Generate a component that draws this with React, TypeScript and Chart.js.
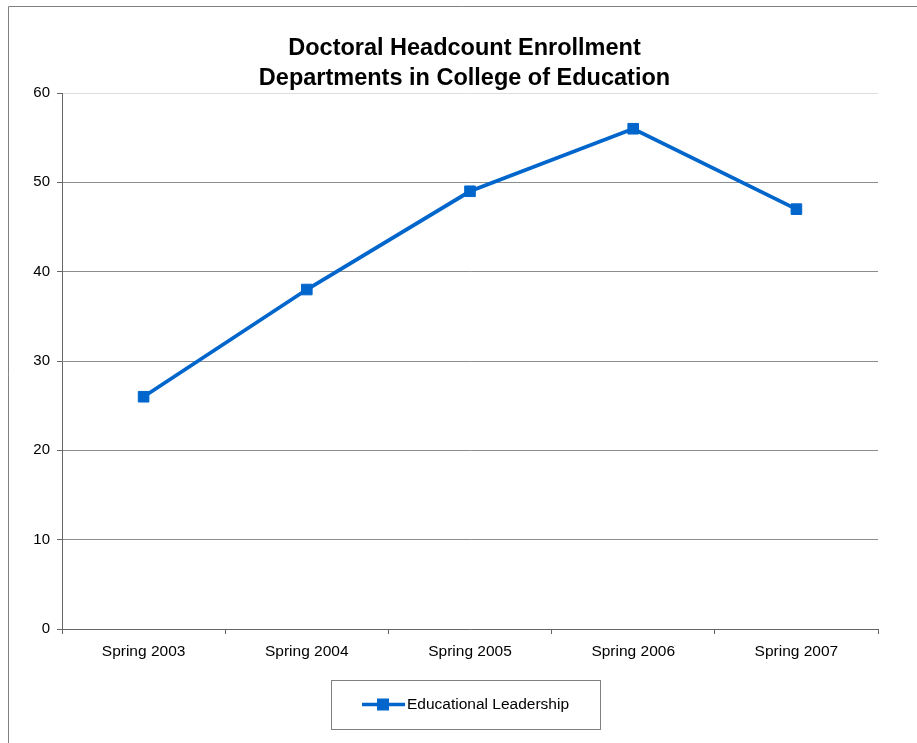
import React, { useEffect, useRef } from "react";
import { Chart, registerables } from "chart.js";

Chart.register(...registerables);

const categories = ["Spring 2003", "Spring 2004", "Spring 2005", "Spring 2006", "Spring 2007"];
const educationalLeadership = [26, 38, 49, 56, 47];
const yTicks = [0, 10, 20, 30, 40, 50, 60];
const titleLines = ["Doctoral Headcount Enrollment", "Departments in College of Education"];
const seriesName = "Educational Leadership";

const FONT = "'Liberation Sans', Arial, Helvetica, sans-serif";
const LINE_COLOR = "#0066CC";
const AXIS_COLOR = "#666666";
const GRID_COLOR = "#8c8c8c";

const decorPlugin = {
  id: "decor",
  afterDraw(chart: any) {
    const ctx = chart.ctx as CanvasRenderingContext2D;
    ctx.save();
    // outer frame (top and left edges visible)
    ctx.strokeStyle = "#808080";
    ctx.lineWidth = 1;
    ctx.beginPath();
    ctx.moveTo(8.5, 743);
    ctx.lineTo(8.5, 6.5);
    ctx.lineTo(917, 6.5);
    ctx.stroke();

    // title
    ctx.fillStyle = "#000";
    ctx.font = `bold 23.5px ${FONT}`;
    ctx.textAlign = "center";
    ctx.textBaseline = "alphabetic";
    ctx.fillText(titleLines[0], 464.5, 54.5);
    ctx.fillText(titleLines[1], 464.5, 84.5);

    // legend box
    ctx.strokeStyle = "#808080";
    ctx.lineWidth = 1;
    ctx.strokeRect(331.5, 680.5, 269, 49);
    ctx.strokeStyle = LINE_COLOR;
    ctx.lineWidth = 3.5;
    ctx.beginPath();
    ctx.moveTo(362, 704.5);
    ctx.lineTo(405, 704.5);
    ctx.stroke();
    ctx.fillStyle = LINE_COLOR;
    ctx.fillRect(377, 698.5, 12, 12);
    ctx.fillStyle = "#000";
    ctx.font = `15.5px ${FONT}`;
    ctx.textAlign = "left";
    ctx.textBaseline = "middle";
    ctx.fillText(seriesName, 407, 705);
    ctx.restore();
  },
};

export default function App() {
  const ref = useRef<HTMLCanvasElement | null>(null);

  useEffect(() => {
    if (!ref.current) return;
    const chart = new Chart(ref.current, {
      type: "line",
      data: {
        labels: categories,
        datasets: [
          {
            label: seriesName,
            data: educationalLeadership,
            borderColor: LINE_COLOR,
            backgroundColor: LINE_COLOR,
            borderWidth: 3.8,
            pointStyle: "rect",
            pointRadius: 7.5,
            pointBorderWidth: 1,
            pointBackgroundColor: LINE_COLOR,
            pointBorderColor: LINE_COLOR,
            tension: 0,
            fill: false,
          },
        ],
      },
      options: {
        responsive: false,
        animation: false,
        devicePixelRatio: 1,
        layout: { padding: { top: 93, right: 39, left: 0, bottom: 0 } },
        plugins: {
          legend: { display: false },
          title: { display: false },
          tooltip: { enabled: false },
        },
        scales: {
          x: {
            type: "category",
            offset: true,
            afterFit: (scale: any) => {
              scale.height = 114;
            },
            grid: {
              display: true,
              drawOnChartArea: false,
              drawTicks: true,
              tickLength: 5,
              tickColor: AXIS_COLOR,
              offset: true,
            },
            border: { display: true, color: AXIS_COLOR, width: 1 },
            ticks: {
              color: "#000",
              font: { family: FONT, size: 15.5 },
              padding: 8,
              maxRotation: 0,
              autoSkip: false,
            },
          },
          y: {
            min: 0,
            max: 60,
            afterFit: (scale: any) => {
              scale.width = 62;
            },
            afterBuildTicks: (scale: any) => {
              scale.ticks = yTicks.map((v) => ({ value: v }));
            },
            grid: {
              color: (c: any) =>
                c.tick && c.tick.value === 60
                  ? "#dedede"
                  : c.tick && c.tick.value === 0
                  ? "rgba(0,0,0,0)"
                  : GRID_COLOR,
              lineWidth: 1,
              drawTicks: true,
              tickLength: 5,
              tickColor: AXIS_COLOR,
            },
            border: { display: true, color: AXIS_COLOR, width: 1 },
            ticks: {
              color: "#000",
              font: { family: FONT, size: 15 },
              padding: 7,
              stepSize: 10,
            },
          },
        },
      },
      plugins: [decorPlugin],
    });
    return () => chart.destroy();
  }, []);

  return (
    <div style={{ position: "fixed", left: 0, top: 0, width: 917, height: 743, background: "#fff" }}>
      <canvas ref={ref} width={917} height={743} style={{ display: "block", width: 917, height: 743 }} />
    </div>
  );
}
